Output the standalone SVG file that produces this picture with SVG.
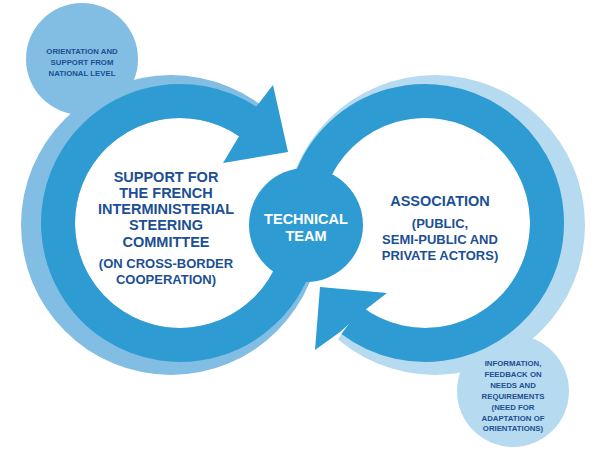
<svg xmlns="http://www.w3.org/2000/svg" width="600" height="453" viewBox="0 0 600 453">
<style>
.dark{fill:#2f9bd3}
.band{fill:none;stroke:#2f9bd3;stroke-width:34}
.lightL{fill:#82bde3}
.lightR{fill:#b6daef}
text{font-family:"Liberation Sans",Arial,sans-serif;font-weight:bold;text-anchor:middle}
.big{font-size:14.5px;fill:#1c4f93}
.mid{font-size:13px;fill:#1c4f93}
.small{font-size:7.8px;fill:#1c4f93}
.white{font-size:14.5px;fill:#ffffff}
</style>
<defs>
<clipPath id="clipL">
<polygon points="180,223 429,201 357,400 180,473 3,400 -70,223 3,46 180,-27 323,18"/>
</clipPath>
<clipPath id="clipR">
<polygon points="425,223 176,245 248,46 425,-27 602,46 675,223 602,400 425,473 275,423"/>
</clipPath>
</defs>
<rect width="600" height="453" fill="#ffffff"/>
<g id="shadows">
<path class="lightL" clip-path="url(#clipL)" fill-rule="evenodd" d="M21,225a150,150 0 1,0 300,0a150,150 0 1,0 -300,0Z M75,223a105,105 0 1,0 210,0a105,105 0 1,0 -210,0Z"/>
<path class="lightR" clip-path="url(#clipR)" fill-rule="evenodd" d="M285,225a150,150 0 1,0 300,0a150,150 0 1,0 -300,0Z M320,223a105,105 0 1,0 210,0a105,105 0 1,0 -210,0Z"/>
</g>
<g id="node-national">
<circle class="lightL" cx="82" cy="59" r="56"/>
<text class="small" x="82" y="54">ORIENTATION AND</text>
<text class="small" x="82" y="65">SUPPORT FROM</text>
<text class="small" x="82" y="76">NATIONAL LEVEL</text>
</g>
<g id="node-information">
<circle class="lightR" cx="513" cy="391" r="56"/>
<text class="small" x="513" y="366.3">INFORMATION,</text>
<text class="small" x="513" y="377.2">FEEDBACK ON</text>
<text class="small" x="513" y="388">NEEDS AND</text>
<text class="small" x="513" y="398.8">REQUIREMENTS</text>
<text class="small" x="513" y="409.6">(NEED FOR</text>
<text class="small" x="513" y="420.5">ADAPTATION OF</text>
<text class="small" x="513" y="431.3">ORIENTATIONS)</text>
</g>
<g id="connectors">
<path class="band" d="M301.54,212.37 A122,122 0 1 1 249.98,123.06"/>
<polygon class="dark" points="273,85 288,152 223,163 238,138 252,112"/>
<path class="band" d="M303.46,233.63 A122,122 0 1 1 351.58,320.43"/>
<polygon class="dark" points="387,293 320,287 315,350 340,332 365,310"/>
</g>
<g id="node-committee">
<text class="big" x="166" y="182">SUPPORT FOR</text>
<text class="big" x="166" y="198">THE FRENCH</text>
<text class="big" x="166" y="214">INTERMINISTERIAL</text>
<text class="big" x="166" y="230">STEERING</text>
<text class="big" x="166" y="246.5">COMMITTEE</text>
<text class="mid" x="166" y="268">(ON CROSS-BORDER</text>
<text class="mid" x="166" y="284">COOPERATION)</text>
</g>
<g id="node-association">
<text class="big" x="440" y="206">ASSOCIATION</text>
<text class="mid" x="440" y="228">(PUBLIC,</text>
<text class="mid" x="440" y="243.5">SEMI-PUBLIC AND</text>
<text class="mid" x="440" y="259.5">PRIVATE ACTORS)</text>
</g>
<g id="node-technical">
<circle class="dark" cx="306" cy="225" r="57"/>
<text class="white" x="306" y="224">TECHNICAL</text>
<text class="white" x="306" y="240.5">TEAM</text>
</g>
</svg>
